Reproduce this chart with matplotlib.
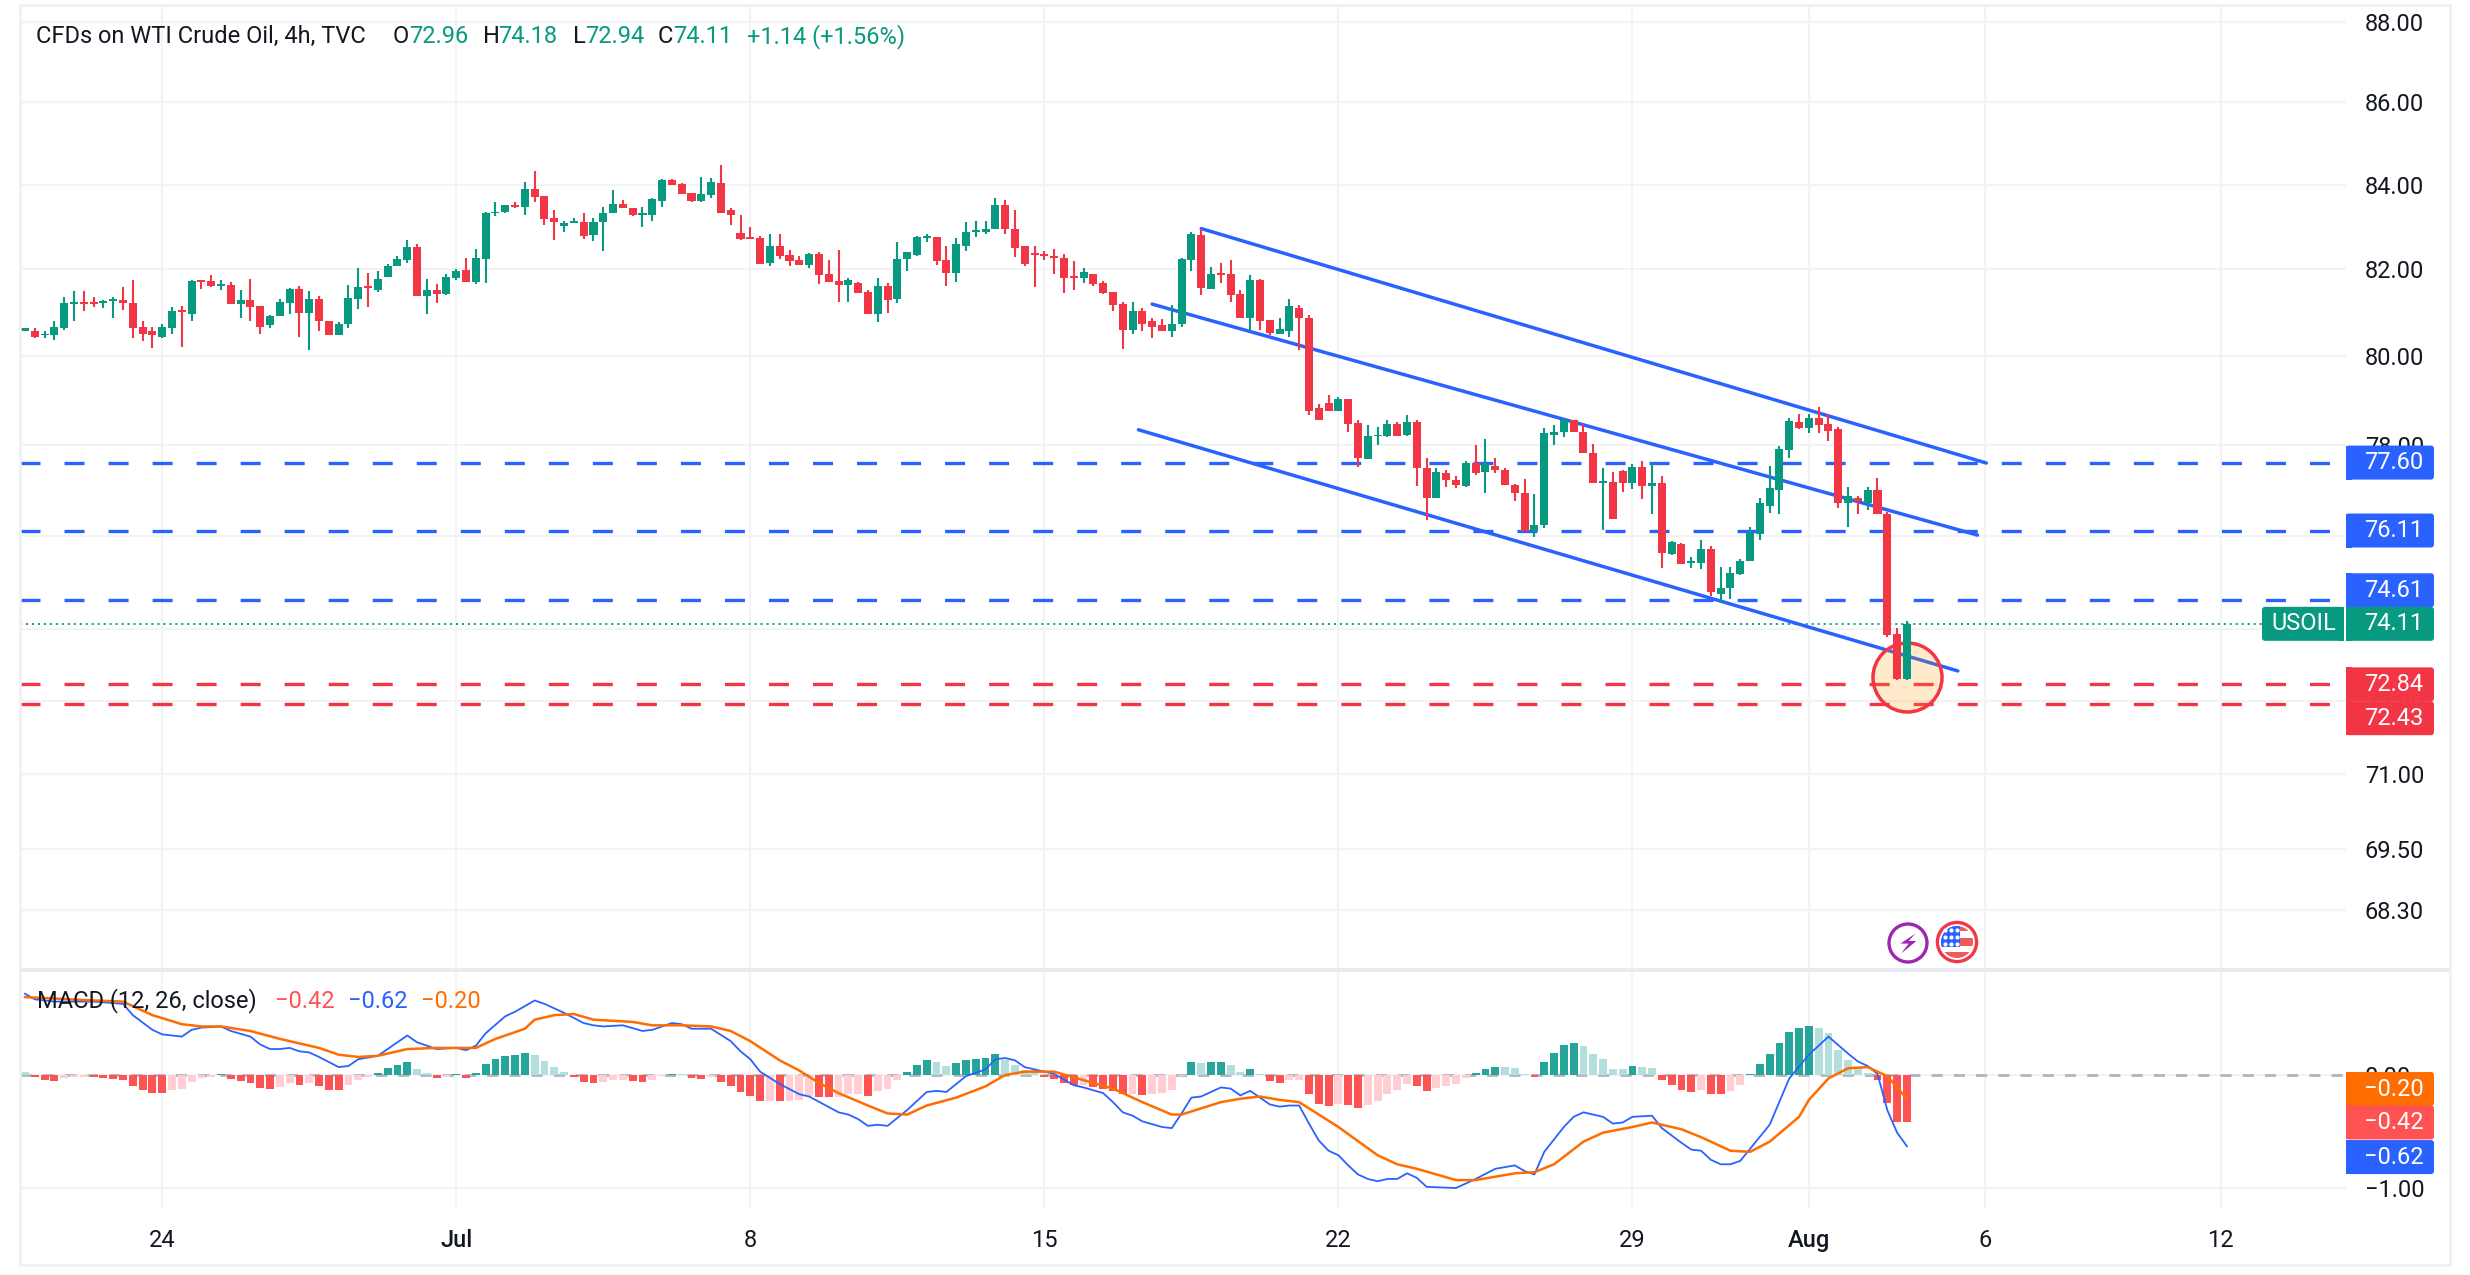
import numpy as np
import matplotlib
matplotlib.use('Agg')
import matplotlib.pyplot as plt
from matplotlib.patches import FancyBboxPatch, Rectangle, Circle, Polygon
from matplotlib.transforms import IdentityTransform
from matplotlib.ticker import NullLocator, NullFormatter

plt.rcParams['font.family'] = ['Roboto', 'DejaVu Sans']
plt.rcParams['lines.scale_dashes'] = False

# Candles, 4h bars
opens = [
    80.58,80.58,80.47,80.47,80.63,81.19,81.23,81.23,81.21,81.26,
    81.28,81.21,80.67,80.58,80.44,80.63,81.05,80.95,81.74,81.72,
    81.60,81.63,81.19,81.28,81.14,80.70,80.91,81.21,81.53,80.98,
    81.30,80.79,80.47,80.72,81.30,81.60,81.51,81.81,82.07,82.21,
    82.52,81.37,81.51,81.42,81.79,81.98,81.70,82.24,83.32,83.36,
    83.53,83.46,83.91,83.74,83.22,83.01,83.08,83.11,82.80,83.11,
    83.32,83.55,83.44,83.29,83.27,83.62,84.12,84.02,83.81,83.62,
    83.76,84.05,83.39,82.85,82.75,82.73,82.14,82.54,82.33,82.21,
    82.09,82.35,81.88,81.72,81.63,81.67,81.47,80.95,81.60,81.30,
    82.24,82.33,82.73,82.75,82.21,81.91,82.54,82.87,82.87,82.94,
    83.53,82.96,82.54,82.38,82.35,82.31,82.26,81.84,81.79,81.88,
    81.67,81.47,81.19,80.60,81.02,80.81,80.70,80.58,80.72,82.21,
    82.80,81.53,81.91,81.88,81.42,80.86,81.74,80.83,80.51,80.58,
    81.11,80.88,78.81,78.94,78.74,79.01,78.49,77.69,78.18,78.18,
    78.45,78.22,78.51,77.49,76.82,77.36,77.22,77.09,77.60,77.40,
    77.53,77.44,77.11,76.93,76.09,76.22,78.22,78.27,78.54,78.29,
    77.82,77.16,77.18,77.42,77.16,77.51,77.09,77.16,75.60,75.81,
    75.40,75.40,75.72,74.75,74.88,75.18,75.44,76.04,76.65,77.00,
    77.88,78.51,78.38,78.60,78.47,78.35,76.70,76.81,76.72,77.00,76.48,73.90,72.96]
highs = [
    80.63,80.63,80.56,80.81,81.35,81.49,81.49,81.35,81.28,81.35,
    81.58,81.74,80.81,80.67,80.74,81.12,81.14,81.74,81.74,81.86,
    81.74,81.70,81.51,81.77,81.14,80.93,81.30,81.56,81.60,81.49,
    81.37,80.79,80.77,81.63,82.02,81.91,81.95,82.12,82.31,82.68,
    82.59,81.77,81.65,81.88,82.00,82.26,82.47,83.36,83.60,83.53,
    83.58,84.07,84.33,83.74,83.39,83.13,83.22,83.32,83.22,83.48,
    83.88,83.65,83.44,83.48,83.69,84.14,84.14,84.05,83.81,84.19,
    84.16,84.47,83.44,83.29,82.99,82.78,82.82,82.82,82.45,82.31,
    82.38,82.40,82.21,82.45,81.79,81.70,81.51,81.79,81.67,82.64,
    82.40,82.78,82.82,82.75,82.54,82.73,83.11,83.15,83.13,83.69,
    83.65,83.41,82.54,82.54,82.42,82.47,82.35,82.19,82.02,81.88,
    81.72,81.47,81.23,81.23,81.09,80.86,80.84,81.16,82.26,82.87,
    82.94,82.05,82.16,82.23,81.51,81.86,81.77,80.83,80.86,81.30,
    81.16,80.93,78.90,79.10,79.07,79.03,78.54,78.43,78.40,78.56,
    78.51,78.67,78.56,77.71,77.47,77.44,77.31,77.64,77.98,78.13,
    77.71,77.49,77.13,77.24,76.91,78.36,78.43,78.58,78.56,78.47,
    78.02,77.49,77.40,77.44,77.56,77.64,77.60,77.31,75.89,75.83,
    75.53,75.91,75.78,75.33,75.33,75.50,76.19,76.81,77.53,77.97,
    78.60,78.69,78.69,78.85,78.69,78.40,77.07,76.87,77.07,77.25,76.52,74.03,74.18]
lows = [
    80.58,80.40,80.42,80.37,80.60,80.79,81.02,81.12,81.09,80.88,
    81.05,80.42,80.33,80.19,80.40,80.51,80.21,80.81,81.53,81.58,
    81.51,81.19,80.86,80.79,80.49,80.63,80.91,80.95,80.44,80.14,
    80.56,80.47,80.47,80.63,81.07,81.12,81.47,81.81,82.07,82.16,
    81.37,80.95,81.21,81.40,81.74,81.70,81.65,81.67,83.25,83.34,
    83.44,83.29,83.58,83.04,82.68,82.89,83.08,82.71,82.66,82.42,
    83.32,83.44,83.25,82.99,83.13,83.48,84.00,83.79,83.58,83.60,
    83.69,83.32,83.04,82.68,82.71,82.12,82.07,82.24,82.07,82.09,
    82.02,81.65,81.70,81.23,81.23,81.44,80.95,80.77,80.98,81.21,
    81.95,82.31,82.64,82.09,81.60,81.70,82.42,82.75,82.82,82.94,
    82.82,82.28,82.07,81.58,82.21,81.88,81.44,81.51,81.67,81.60,
    81.42,81.02,80.16,80.49,80.56,80.42,80.56,80.44,80.65,81.95,
    81.40,81.53,81.67,81.25,80.86,80.58,80.60,80.48,80.51,80.44,
    80.13,78.65,78.54,78.74,78.74,78.29,77.51,77.69,78.00,78.16,
    78.20,78.20,77.09,76.33,76.82,77.07,77.04,77.07,77.33,76.93,
    77.38,77.11,76.76,76.09,75.98,76.16,77.98,78.16,78.27,77.82,
    77.16,76.13,76.36,76.96,77.02,76.80,76.47,75.30,75.57,75.38,
    75.30,75.28,74.70,74.56,74.63,75.14,75.44,75.91,76.50,76.48,
    77.71,78.35,78.26,78.26,78.08,76.59,76.19,76.48,76.56,76.48,73.84,72.93,72.94]
closes = [
    80.63,80.44,80.51,80.65,81.21,81.23,81.19,81.19,81.26,81.30,
    81.21,80.63,80.49,80.47,80.65,81.02,81.00,81.72,81.70,81.60,
    81.65,81.19,81.28,81.12,80.67,80.91,81.23,81.53,80.98,81.30,
    80.81,80.47,80.74,81.33,81.58,81.56,81.77,82.07,82.24,82.52,
    81.37,81.51,81.42,81.81,81.95,81.70,82.26,83.32,83.36,83.51,
    83.48,83.91,83.72,83.18,83.11,83.08,83.13,82.78,83.11,83.34,
    83.55,83.44,83.27,83.34,83.67,84.12,84.00,83.79,83.62,83.79,
    84.07,83.34,83.27,82.71,82.71,82.12,82.54,82.31,82.19,82.09,
    82.35,81.86,81.70,81.63,81.74,81.44,80.95,81.60,81.28,82.24,
    82.40,82.75,82.78,82.19,81.91,82.59,82.89,82.92,82.96,83.53,
    82.94,82.49,82.12,82.33,82.31,82.26,81.79,81.79,81.93,81.65,
    81.44,81.16,80.60,81.02,80.72,80.67,80.58,80.74,82.24,82.82,
    81.56,81.88,81.86,81.39,80.86,81.74,80.79,80.53,80.62,81.14,
    80.86,78.76,78.56,78.74,79.03,78.47,77.71,78.18,78.22,78.47,
    78.20,78.51,77.47,76.82,77.40,77.22,77.11,77.60,77.38,77.56,
    77.44,77.11,76.93,76.11,76.24,78.25,78.29,78.54,78.27,77.82,
    77.16,77.20,76.36,77.16,77.51,77.09,77.16,75.62,75.87,75.38,
    75.45,75.72,74.78,74.88,75.20,75.46,76.06,76.70,77.05,77.90,
    78.53,78.38,78.60,78.44,78.31,76.72,76.87,76.76,77.00,76.48,73.88,72.95,74.11]

# MACD histogram, one value per bar
hist = [
    .03,-.015,-.044,-.05,-.024,-.016,-.014,-.016,-.026,-.032,
    -.044,-.097,-.133,-.159,-.16,-.133,-.124,-.062,-.027,-.015,
    .01,-.032,-.053,-.071,-.115,-.124,-.106,-.071,-.088,-.071,
    -.097,-.133,-.135,-.088,-.044,-.015,.018,.062,.088,.115,
    .053,.018,-.024,-.015,.009,-.024,.018,.097,.142,.168,
    .177,.195,.177,.124,.071,.027,-.015,-.062,-.071,-.062,
    -.044,-.043,-.053,-.062,-.044,-.005,.009,.006,-.027,-.035,
    -.015,-.062,-.097,-.15,-.186,-.23,-.228,-.23,-.229,-.221,
    -.186,-.192,-.195,-.193,-.168,-.167,-.186,-.142,-.124,-.044,
    .027,.088,.133,.115,.08,.106,.133,.142,.15,.186,
    .133,.088,.044,.043,-.018,-.035,-.071,-.088,-.085,-.106,
    -.124,-.142,-.168,-.165,-.177,-.168,-.159,-.133,-.009,.115,
    .106,.115,.116,.088,.027,.053,.009,-.053,-.071,-.044,
    -.043,-.168,-.257,-.274,-.257,-.265,-.292,-.265,-.23,-.168,
    -.133,-.08,-.097,-.142,-.115,-.097,-.08,-.027,.018,.053,
    .071,.07,.062,.009,-.018,.115,.195,.265,.283,.257,
    .186,.142,.053,.052,.08,.071,.062,-.044,-.088,-.133,
    -.15,-.133,-.168,-.169,-.142,-.088,.009,.097,.186,.283,
    .381,.416,.434,.416,.372,.221,.133,.071,.018,-.044,-.248,-.416,-.42]

macd_bars = [0,1,3,7,10,11,13,14,16,17,18,20,21,23,24,25,26,27,28,29,30,32,33,34,36,38,39,40,42,44,45,46,47,49,50,52,53,55,57,58,59,61,63,64,66,67,68,70,72,73,74,75,77,79,80,83,84,85,86,87,88,90,92,93,94,96,98,99,100,101,102,104,105,107,108,110,111,112,113,114,116,117,118,119,120,122,123,124,125,127,128,129,130,131,132,133,134,135,136,137,138,139,140,141,142,143,146,148,150,152,153,154,155,157,158,159,161,162,163,164,166,167,169,170,171,172,173,174,175,178,180,182,184,186,187,188,189,190,191,192]
macd_vals = [.72,.67,.65,.65,.63,.53,.40,.36,.34,.40,.42,.43,.39,.34,.27,.23,.23,.24,.21,.20,.16,.07,.08,.14,.17,.29,.35,.29,.23,.24,.22,.26,.37,.52,.56,.66,.63,.55,.46,.44,.43,.44,.39,.40,.46,.45,.41,.41,.30,.21,.14,.03,-.08,-.17,-.19,-.33,-.35,-.39,-.45,-.44,-.45,-.31,-.15,-.14,-.15,-.01,.05,.14,.15,.13,.07,.03,.01,-.09,-.11,-.16,-.24,-.33,-.36,-.41,-.46,-.47,-.34,-.20,-.19,-.11,-.12,-.18,-.14,-.26,-.28,-.27,-.27,-.43,-.58,-.67,-.71,-.80,-.88,-.92,-.94,-.92,-.92,-.87,-.91,-.99,-1.00,-.92,-.83,-.80,-.85,-.88,-.68,-.46,-.37,-.33,-.37,-.43,-.42,-.37,-.36,-.47,-.60,-.66,-.67,-.75,-.79,-.79,-.76,-.44,-.03,.18,.34,.19,.12,.08,.01,-.31,-.51,-.63]
signal_bars = [0,7,10,13,16,18,20,23,26,30,32,34,36,39,42,46,48,51,52,54,56,58,62,64,67,70,72,74,77,79,81,83,86,88,90,92,95,98,100,102,105,107,111,114,117,118,122,124,126,128,130,134,138,140,142,146,148,152,154,156,159,161,164,166,169,171,174,176,178,181,182,184,186,188,190,192]
signal_vals = [.69,.66,.65,.53,.45,.43,.43,.39,.32,.24,.18,.16,.17,.23,.24,.24,.32,.41,.49,.53,.54,.49,.47,.44,.44,.43,.39,.30,.13,.04,-.07,-.16,-.27,-.34,-.35,-.27,-.20,-.10,0,.03,.03,-.02,-.12,-.24,-.35,-.35,-.24,-.21,-.19,-.22,-.24,-.46,-.71,-.79,-.83,-.93,-.93,-.87,-.86,-.79,-.59,-.51,-.46,-.42,-.48,-.55,-.67,-.68,-.59,-.37,-.22,-.03,.06,.07,-.01,-.21]

# Levels and trend lines
blue_levels = [77.60, 76.11, 74.61]
red_levels = [72.84, 72.43]
last_price = 74.11
channels = [((120, 200.1), (82.96, 77.59)),
            ((115, 199.2), (81.19, 76.01)),
            ((113.6, 197.2), (78.33, 73.12))]

# Axes labels
price_ticks = [88, 86, 84, 82, 80, 78, 76, 74, 72.5, 71, 69.5, 68.3]
time_ticks = [14, 44, 74, 104, 134, 164, 182, 200, 224]
time_labels = ['24', 'Jul', '8', '15', '22', '29', 'Aug', '6', '12']

GREEN = '#089981'
RED = '#f23645'
BLUE = '#2962ff'
ORANGE = '#ff6d00'
INK = '#131722'
GRID = '#f2f3f5'
W, H = 2470, 1275
FS = 17


def px_axes(left, top, right, bottom):
    return [left / W, 1 - bottom / H, (right - left) / W, (bottom - top) / H]


fig = plt.figure(figsize=(W / 100, H / 100), dpi=100, facecolor='white')
ax = fig.add_axes(px_axes(20, 6, 2346, 972))
ax2 = fig.add_axes(px_axes(20, 972, 2346, 1208))

x = np.arange(len(opens))
o, h, l, c = map(np.array, (opens, highs, lows, closes))
up = c >= o

for a in (ax, ax2):
    a.set_xlim(-0.51, 236.8)
    a.set_xticks(time_ticks)
    for s in a.spines.values():
        s.set_visible(False)
    a.set_axisbelow(True)
    a.grid(True, color=GRID, lw=1.5)
    a.yaxis.tick_right()
    a.tick_params(length=0, labelsize=FS, labelcolor=INK, pad=13.5)

# ── Price pane ──
ax.set_yscale('log')
ax.set_ylim(67.10, 88.40)
ax.set_yticks(price_ticks)
ax.set_yticklabels(['%.2f' % p for p in price_ticks])
ax.yaxis.set_minor_locator(NullLocator())
ax.yaxis.set_minor_formatter(NullFormatter())
ax.tick_params(axis='x', labelbottom=False)

for lvl in blue_levels:
    ax.axhline(lvl, color=BLUE, lw=2.4, ls=(0, (14.4, 17.3)), zorder=2)
for lvl in red_levels:
    ax.axhline(lvl, color=RED, lw=2.4, ls=(0, (14.4, 17.3)), zorder=2)
ax.plot([-0.51, 229.3], [last_price, last_price], color=GREEN, lw=1.3,
        ls=(0, (1.5, 2.8)), zorder=2)
for xs, ys in channels:
    ax.plot(xs, ys, color=BLUE, lw=2.5, solid_capstyle='round', zorder=3)

# highlight circle around the last bars
ax.scatter([192], [72.99], s=2470, facecolor=(1, 0.596, 0, 0.2), edgecolor=RED,
           linewidth=2.5, zorder=4)

colors = np.where(up, GREEN, RED)
ax.vlines(x, l, h, colors=colors, lw=1.5, zorder=5)
ax.bar(x, np.maximum(np.abs(c - o), 0.03), bottom=np.minimum(o, c), width=0.82,
       color=colors, linewidth=0, zorder=5)

# ── MACD pane ──
ax2.set_ylim(-1.177, 0.912)
ax2.set_yticks([0, -1])
ax2.set_yticklabels(['0.00', '\u22121.00'])
ax2.set_xticklabels(time_labels)
ax2.tick_params(axis='x', pad=15)
for lab in ax2.get_xticklabels():
    if lab.get_text() in ('Jul', 'Aug'):
        lab.set_fontweight('medium')

ax2.axhline(0, color='#b2b5be', lw=2, ls=(0, (8, 8)), zorder=1.5)
hist_colors = []
prev = hist[0]
for v in hist:
    if v >= 0:
        hist_colors.append('#26a69a' if v > prev else '#b2dfdb')
    else:
        hist_colors.append('#ff5252' if v < prev else '#ffcdd2')
    prev = v
ax2.bar(x, hist, width=0.8, color=hist_colors, linewidth=0, zorder=2)
ax2.plot(macd_bars, macd_vals, color=BLUE, lw=1.3, zorder=3)
ax2.plot(signal_bars, signal_vals, color=ORANGE, lw=1.8, zorder=4)

fig.canvas.draw()


def tag(a, value, text, color, nudge=0, x0=2346, x1=2434, text_x=2364, flat='left'):
    yc = a.transData.transform((0, value))[1] + nudge
    fig.add_artist(FancyBboxPatch((x0, yc - 17), x1 - x0, 34,
                                  boxstyle='round,pad=0,rounding_size=3',
                                  fc=color, ec='none', transform=IdentityTransform(), zorder=5))
    sq_x = x0 if flat == 'left' else x1 - 6
    fig.add_artist(Rectangle((sq_x, yc - 17), 6, 34, fc=color, ec='none',
                             transform=IdentityTransform(), zorder=5))
    fig.text(text_x / W, yc / H, text, color='white', fontsize=FS, va='center', ha='left', zorder=6)


tag(ax, 77.60, '77.60', BLUE)
tag(ax, 76.11, '76.11', BLUE)
tag(ax, 74.61, '74.61', BLUE, nudge=10)
tag(ax, 72.84, '72.84', RED)
tag(ax, 72.43, '72.43', RED, nudge=-14)
tag(ax, 74.11, '74.11', GREEN)
tag(ax, 74.11, 'USOIL', GREEN, x0=2262, x1=2344, text_x=2271, flat='right')
tag(ax2, -0.20, '\u22120.20', ORANGE, nudge=8.6)
tag(ax2, -0.42, '\u22120.42', '#ff5252')
tag(ax2, -0.62, '\u22120.62', BLUE, nudge=-12)

# ── Header and legend text ──
hy = 1 - 36.5 / H
for tx, txt, col in [(36, 'CFDs on WTI Crude Oil, 4h, TVC', INK), (393, 'O', INK), (409, '72.96', GREEN),
                     (483, 'H', INK), (498, '74.18', GREEN), (573, 'L', INK), (585, '72.94', GREEN),
                     (658, 'C', INK), (673, '74.11', GREEN), (747, '+1.14 (+1.56%)', GREEN)]:
    fig.text(tx / W, hy, txt, color=col, fontsize=FS, va='center', ha='left', zorder=6)

ly = 1 - 1001 / H
for tx, txt, col in [(37, 'MACD (12, 26, close)', INK), (275, '\u22120.42', '#ff5252'),
                     (348, '\u22120.62', BLUE), (421, '\u22120.20', ORANGE)]:
    fig.text(tx / W, ly, txt, color=col, fontsize=FS, va='center', ha='left', zorder=6)

# ── Frame ──
fig.add_artist(Rectangle((20, H - 1265), 2430, 1260, fc='none', ec='#eff0f5', lw=1.8,
                         transform=IdentityTransform(), zorder=1))
fig.add_artist(Rectangle((20, H - 972), 2430, 4, fc='#e9eaf2', ec='none',
                         transform=IdentityTransform(), zorder=1))

# ── Event icons ──
bolt_ax = fig.add_axes(px_axes(1886, 921, 1930, 965), zorder=3)
flag_ax = fig.add_axes(px_axes(1935, 920, 1979, 964), zorder=3)
for a in (bolt_ax, flag_ax):
    a.set_xlim(-1.1, 1.1)
    a.set_ylim(-1.1, 1.1)
    a.axis('off')
bolt_ax.add_patch(Circle((0, 0), 0.95, fc='white', ec='#9c27b0', lw=2.4))
bolt_ax.add_patch(Polygon([(.37, .47), (-.38, -.03), (.03, -.03), (-.35, -.53), (.42, .1), (.03, .1)],
                          fc='#9c27b0', ec='none'))

flag_ax.add_patch(Circle((0, 0), 0.98, fc='white', ec=RED, lw=2.4))
clip = Circle((0, 0), 0.8, transform=flag_ax.transData)
for y0, y1 in [(.56, .9), (-.2, .2), (-.9, -.52)]:
    r = Rectangle((-1, y0), 2, y1 - y0, fc='#f05a5a', ec='none')
    flag_ax.add_patch(r)
    r.set_clip_path(clip)
r = Rectangle((-1, -.24), 1.13, 1.2, fc=BLUE, ec='none')
flag_ax.add_patch(r)
r.set_clip_path(clip)
sx, sy = np.meshgrid([-.58, -.28, .0], [.6, .25, -.08])
flag_ax.scatter(sx.ravel(), sy.ravel(), s=9, color='white', linewidth=0, zorder=4)

fig.savefig('out.png', dpi=100, facecolor='white')
